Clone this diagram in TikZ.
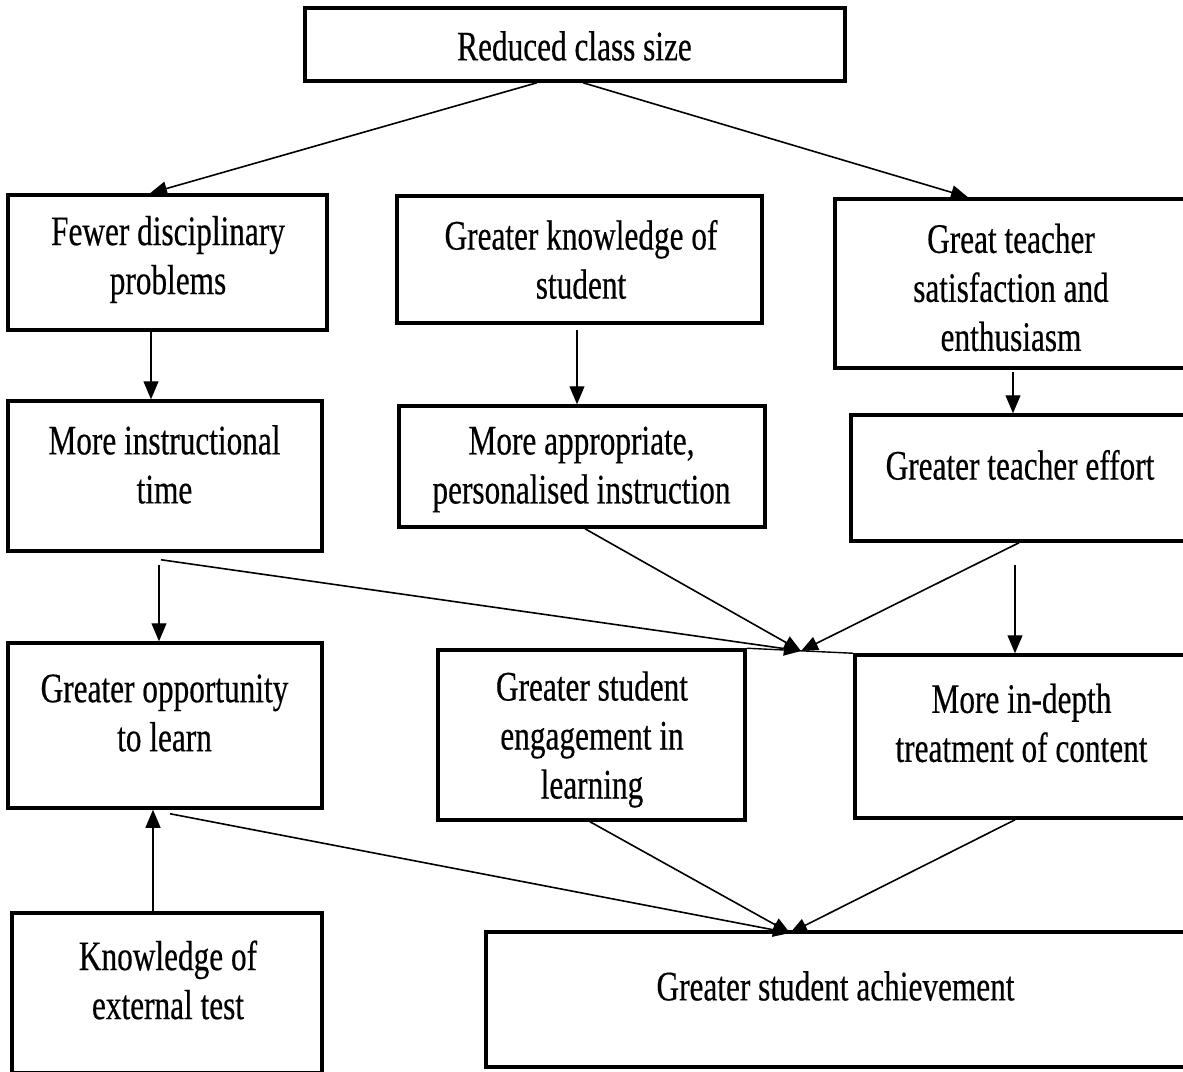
\documentclass[tikz,border=0pt]{standalone}
\usepackage{fontspec}
\setmainfont{Liberation Serif}[FakeStretch=0.745,FakeBold=0.4]
\usetikzlibrary{arrows.meta,calc}
\begin{document}
\begin{tikzpicture}[x=1pt,y=-1pt,
  box/.style={draw,line width=3.5pt,inner sep=0pt},
  txt/.style={inner sep=0pt,align=center,font=\fontsize{42}{49}\selectfont},
  arr/.style={line width=1.6pt,-{Triangle[length=17pt,width=14pt]}},
  arrthin/.style={line width=1.2pt,-{Triangle[length=18pt,width=15pt]}},
  plain/.style={line width=1.4pt}]
\useasboundingbox (0,0) rectangle (1183,1071);
\clip (0,0) rectangle (1183,1071);
% boxes
\node[box,minimum width=540,minimum height=73]  (red)   at (575,44.5) {};
\node[box,minimum width=319,minimum height=135] (few)   at (167.5,262.5) {};
\node[box,minimum width=365,minimum height=127] (know)  at (579.5,259.5) {};
\node[box,minimum width=355,minimum height=169] (sat)   at (1012.5,283.5) {};
\node[box,minimum width=314,minimum height=150] (instr) at (165,476) {};
\node[box,minimum width=366,minimum height=121] (appr)  at (582,466.5) {};
\node[box,minimum width=339,minimum height=126] (eff)   at (1020.5,478) {};
\node[box,minimum width=314,minimum height=165] (opp)   at (165,725.5) {};
\node[box,minimum width=307,minimum height=170] (eng)   at (591.5,735) {};
\node[box,minimum width=335,minimum height=163] (dep)   at (1022.5,736.5) {};
\node[box,minimum width=310,minimum height=160] (ext)   at (167,993) {};
\node[box,minimum width=704,minimum height=135] (ach)   at (838,999.5) {};
% texts
\node[txt] (redt)   at (574.5,46)    {Reduced class size};
\node[txt] (fewt)   at (168,259.5)   {Fewer disciplinary\\problems};
\node[txt] (knowt)  at (581,259.5)   {Greater knowledge of\\student};
\node[txt] (satt)   at (1011,287.5)  {Great teacher\\satisfaction and\\enthusiasm};
\node[txt] (instrt) at (164.5,464.5) {More instructional\\time};
\node[txt] (apprt)  at (581.5,469.5) {More appropriate,\\personalised instruction};
\node[txt] (efft)   at (1020,465)    {Greater teacher effort};
\node[txt] (oppt)   at (164.5,713)   {Greater opportunity\\to learn};
\node[txt] (engt)   at (592,739.5)   {Greater student\\engagement in\\learning};
\node[txt] (dept)   at (1021.5,723)  {More in-depth\\treatment of content};
\node[txt] (extt)   at (168,980)     {Knowledge of\\external test};
\node[txt] (acht)   at (835.5,986)   {Greater student achievement};
% meeting points
\coordinate (m1) at (801,651);
\coordinate (m2) at (790,933);
% connectors
\draw[arr] ([xshift=-38pt]red.south) -- ([xshift=-17.5pt]few.north);
\draw[arr] ([xshift=8pt]red.south) -- ([xshift=-44.5pt]sat.north);
\draw[arrthin] ([xshift=-16.5pt]few.south) -- ([xshift=-14pt]instr.north);
\draw[arrthin] ([xshift=-2.5pt,yshift=-5pt]know.south) -- ([xshift=-5pt]appr.north);
\draw[arrthin] ([xshift=0.5pt,yshift=-2pt]sat.south) -- ([xshift=-7.5pt]eff.north);
\draw[arr] ([xshift=-4pt,yshift=-7pt]instr.south) -- (m1);
\draw[arrthin] ([xshift=-6pt,yshift=-12pt]instr.south) -- ([xshift=-6pt]opp.north);
\draw[arr] ([xshift=3pt]appr.south) -- (m1);
\draw[arr] ([xshift=-1.5pt]eff.south) -- (m1);
\draw[arrthin] ([xshift=-5.5pt,yshift=-22pt]eff.south) -- ([xshift=-7.5pt]dep.north);
\draw[plain] (eng.north east) -- (dep.north west);
\draw[arr] ([xshift=5pt,yshift=-4pt]opp.south) -- (m2);
\draw[arr] ([xshift=-1.5pt]eng.south) -- (m2);
\draw[arr] ([xshift=-7.5pt]dep.south) -- (m2);
\draw[arrthin] ([xshift=-14pt]ext.north) -- ([xshift=-12pt]opp.south);
\end{tikzpicture}
\end{document}
